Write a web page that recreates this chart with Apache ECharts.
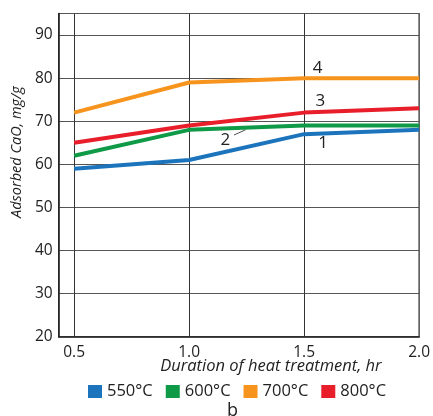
<!DOCTYPE html>
<html>
<head>
<meta charset="utf-8">
<script src="https://cdn.jsdelivr.net/npm/echarts@6/dist/echarts.min.js"></script>
<style>
  html, body { margin: 0; padding: 0; background: #fff; }
  #chart { width: 433px; height: 416px; }
</style>
</head>
<body>
<div id="chart"></div>
<script>
// Heat-treatment duration (hr) and CaO adsorption (mg/g) per calcination temperature
const durations = [0.5, 1.0, 1.5, 2.0];
const xTicks = [0.5, 1.0, 1.5, 2.0];
const temps = ['550°C', '600°C', '700°C', '800°C'];
const curveNumbers = ['1', '2', '3', '4'];
const cao550 = [59, 61, 67, 68];
const cao600 = [62, 68, 69, 69];
const cao700 = [72, 79, 80, 80];
const cao800 = [65, 69, 72, 73];

const colors = ['#1c75bc', '#0f9a48', '#f7941d', '#e81e2a'];
const font = '"Open Sans", "Noto Sans", sans-serif';

// Curve number tags placed in data space next to each line
const tagSpots = [
  [1.583, 64.8],  // 1 – 550°C
  [1.158, 65.7],  // 2 – 600°C
  [1.571, 74.6],  // 3 – 800°C
  [1.559, 82.4]   // 4 – 700°C
];
const seriesValues = [cao550, cao600, cao700, cao800];
const seriesTag = [0, 1, 3, 2];

const series = seriesValues.map((vals, i) => {
  const tagIdx = seriesTag[i];
  const s = {
    name: temps[i],
    type: 'line',
    data: durations.map((d, k) => [d, vals[k]]),
    symbol: 'none',
    lineStyle: { width: 4, color: colors[i] },
    itemStyle: { color: colors[i] },
    z: 10 + i,
    markPoint: {
      symbol: 'circle',
      symbolSize: 0,
      silent: true,
      z: 20,
      label: {
        show: true,
        position: 'inside',
        color: '#222',
        fontSize: 17,
        fontFamily: font,
        formatter: curveNumbers[tagIdx]
      },
      data: [{ coord: tagSpots[tagIdx] }]
    }
  };
  if (i === 1) {
    // short leader from tag "2" to its curve
    s.markLine = {
      silent: true,
      symbol: 'none',
      z: 20,
      label: { show: false },
      lineStyle: { color: '#222', width: 0.8, type: 'solid' },
      data: [[{ coord: [1.195, 66.8] }, { coord: [1.245, 68.0] }]]
    };
  }
  return s;
});

// vertical grid lines at the tick positions, kept beneath the curves
series.push({
  type: 'line',
  data: [],
  silent: true,
  z: 1,
  markLine: {
    silent: true,
    symbol: 'none',
    z: 1,
    label: { show: false },
    lineStyle: { color: '#333', width: 1, type: 'solid' },
    data: xTicks.slice(0, 3).map(v => ({ xAxis: v }))
  }
});

const chart = echarts.init(document.getElementById('chart'), null, { renderer: 'canvas' });
chart.setOption({
  animation: false,
  backgroundColor: '#fff',
  textStyle: { fontFamily: font },
  grid: {
    left: 58.7, top: 13.5, right: 12, bottom: 79.3,
    show: true, borderColor: '#222', borderWidth: 1.2, backgroundColor: 'transparent'
  },
  title: {
    text: 'b',
    left: 222, top: 397,
    textStyle: { fontSize: 18, fontWeight: 'normal', color: '#222', fontFamily: font }
  },
  legend: {
    data: temps,
    left: 83, top: 378,
    itemWidth: 14, itemHeight: 13, itemGap: 13,
    icon: 'rect',
    textStyle: { fontSize: 16.5, color: '#222', fontFamily: font }
  },
  xAxis: {
    type: 'value',
    min: 0.433, max: 2.0,
    name: 'Duration of heat treatment, hr',
    nameLocation: 'middle',
    nameGap: 21,
    nameMoveOverlap: false,
    nameTextStyle: { fontStyle: 'italic', fontSize: 16.5, color: '#222', fontFamily: font, padding: [0, 0, 0, 64] },
    axisLine: { show: true, lineStyle: { color: '#222', width: 1.5 } },
    axisTick: { show: false, customValues: xTicks },
    splitLine: { show: false },
    axisLabel: {
      customValues: xTicks,
      formatter: v => v.toFixed(1),
      fontSize: 15.5, color: '#222', margin: 8, fontFamily: font
    }
  },
  yAxis: {
    type: 'value',
    min: 20, max: 95, interval: 10,
    name: 'Adsorbed CaO, mg/g',
    nameLocation: 'middle',
    nameGap: 34,
    nameMoveOverlap: false,
    nameTextStyle: { fontStyle: 'italic', fontSize: 14.5, color: '#222', fontFamily: font, padding: [0, 0, 0, 46] },
    axisLine: { show: true, lineStyle: { color: '#222', width: 1.5 } },
    axisTick: { show: false },
    splitLine: { show: true, lineStyle: { color: '#555', width: 1 } },
    axisLabel: { fontSize: 15.5, color: '#222', margin: 6, showMaxLabel: false, fontFamily: font }
  },
  series: series
});
</script>
</body>
</html>
